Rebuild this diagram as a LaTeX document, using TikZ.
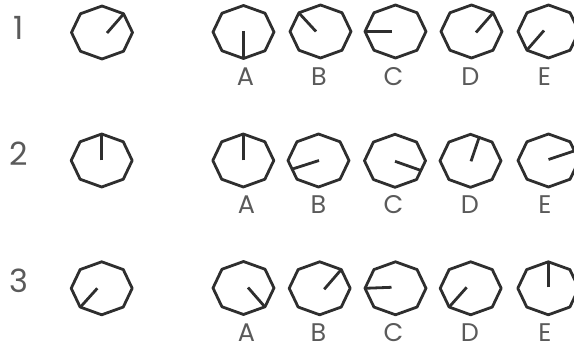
\documentclass[tikz,border=0pt]{standalone}
\usepackage{fontspec}
\usepackage{tikz}
\usetikzlibrary{positioning}
\newfontfamily\optfont{Poppins}
\definecolor{dialgray}{HTML}{2E2E2E}
\definecolor{labelgray}{HTML}{5A5A5A}
\tikzset{
    every node/.style={inner sep=0pt,text=labelgray},
    dialline/.style={draw=dialgray,line width=2.8pt,line join=round},
    handline/.style={draw=dialgray,line width=2.8pt},
    optlabel/.style={font=\optfont\fontsize{25.5}{30}\selectfont,anchor=base},
    rowlabel/.style={font=\optfont\fontsize{32}{36}\selectfont,anchor=base},
    pics/dial/.style 2 args={code={
        \draw[dialline] (0:30.5 and 26.5)
            \foreach \a in {45,90,...,315}{ -- (\a:30.5 and 26.5)} -- cycle;
        \draw[handline] (#1) -- (#2);
    }}
}

\begin{document}
\begin{tikzpicture}[x=1pt,y=-1pt]
\clip (0,0) rectangle (574,345);
% row 1
\node[rowlabel] (row1) at (18.5,39.3) {1};
\pic (q1) at (102,32.5) {dial={5,0.5}{22,-19}};
\pic (q1A) at (243.5,32) {dial={0,-1}{0,26.5}};
\pic (q1B) at (320.5,31.5) {dial={-4.5,0}{-22,-19}};
\pic (q1C) at (395.5,31.5) {dial={-3.5,0}{-30.5,0}};
\pic (q1D) at (471.5,31.5) {dial={4.5,1}{21.5,-18.5}};
\pic (q1E) at (548.5,31.5) {dial={-4.5,-1}{-21.5,18.5}};
\node[optlabel] (a1) at (245.5,86) {A};
\node[optlabel] (b1) at (319,86) {B};
\node[optlabel] (c1) at (393.5,86) {C};
\node[optlabel] (d1) at (470.5,86) {D};
\node[optlabel] (e1) at (544.5,86) {E};
% row 2
\node[rowlabel] (row2) at (18.8,165) {2};
\pic (q2) at (101.7,160.5) {dial={0,0}{0,-26.5}};
\pic (q2A) at (243.3,160.5) {dial={0,0}{0,-27}};
\pic (q2B) at (318.5,160.5) {dial={0.5,0}{-26,8.5}};
\pic (q2C) at (395,160.8) {dial={0,0.5}{25.5,9.5}};
\pic (q2D) at (470.5,160.8) {dial={0.5,0.5}{8.5,-23}};
\pic (q2E) at (548.5,160.5) {dial={0,-1}{25.5,-9.5}};
\node[optlabel] (a2) at (246.5,213) {A};
\node[optlabel] (b2) at (318.5,213) {B};
\node[optlabel] (c2) at (393.5,213) {C};
\node[optlabel] (d2) at (470,213) {D};
\node[optlabel] (e2) at (545,213) {E};
% row 3
\node[rowlabel] (row3) at (18.8,292.7) {3};
\pic (q3) at (101.7,288.3) {dial={-4.4,0}{-21.5,19}};
\pic (q3A) at (243.5,288) {dial={4.5,-0.5}{21.5,19}};
\pic (q3B) at (319.7,288.3) {dial={4.5,1}{21.5,-18.7}};
\pic (q3C) at (395.5,288.3) {dial={-4,-1}{-30.5,0}};
\pic (q3D) at (470.7,288.3) {dial={-4,-1}{-21.5,18.7}};
\pic (q3E) at (548.3,288.3) {dial={0,-1}{0,-26.5}};
\node[optlabel] (a3) at (246.5,341.5) {A};
\node[optlabel] (b3) at (318.5,341.5) {B};
\node[optlabel] (c3) at (393.5,341.5) {C};
\node[optlabel] (d3) at (470,341.5) {D};
\node[optlabel] (e3) at (545,341.5) {E};
\end{tikzpicture}
\end{document}
